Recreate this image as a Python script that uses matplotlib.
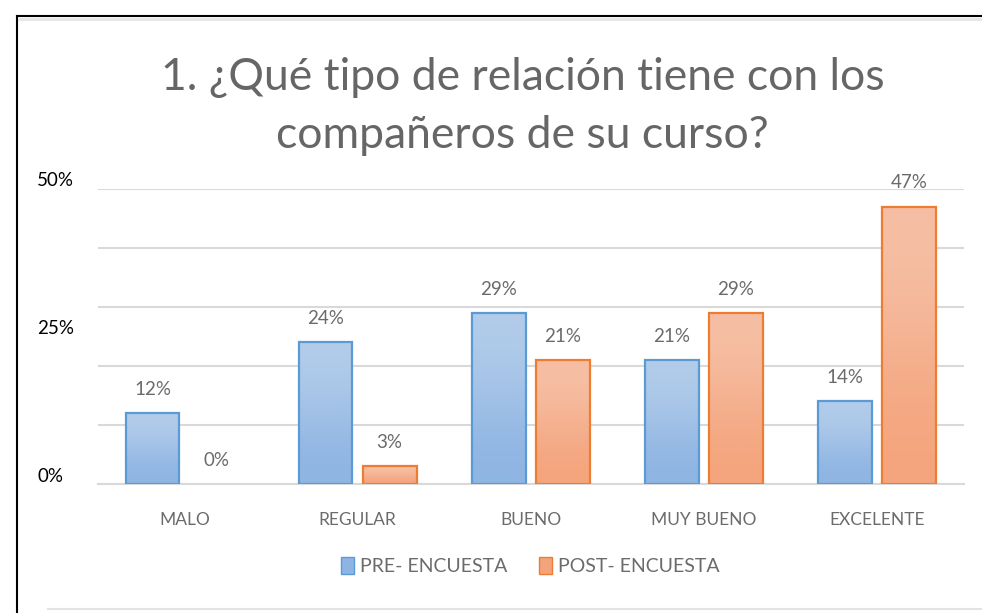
import matplotlib.pyplot as plt
import numpy as np
from matplotlib.colors import to_rgb
from matplotlib.lines import Line2D
from matplotlib.patches import Patch

categories = ["MALO", "REGULAR", "BUENO", "MUY BUENO", "EXCELENTE"]
pre = [12, 24, 29, 21, 14]
post = [0, 3, 21, 29, 47]
series_names = ["PRE- ENCUESTA", "POST- ENCUESTA"]
ytick_labels = ["0%", "25%", "50%"]

FONT = ["Lato", "DejaVu Sans"]
plt.rcParams["font.family"] = FONT

# (top colour, bottom colour, edge colour)
BLUE = ("#b3cdea", "#8eb4e3", "#5b9bd5")
ORANGE = ("#f6c0a6", "#f4a47c", "#ed7d31")
TEXT = "#6b6b6b"


def gradient_bars(ax, xs, heights, width, colors):
    top, bottom, edge = colors
    grad = np.array([to_rgb(bottom), to_rgb(top)]).reshape(2, 1, 3)
    for x, h in zip(xs, heights):
        if h <= 0:
            continue
        bar = ax.bar(x, h, width, facecolor="none", edgecolor=edge,
                     linewidth=1.6, zorder=3)[0]
        im = ax.imshow(grad, extent=(x - width / 2, x + width / 2, 0, h),
                       origin="lower", aspect="auto", interpolation="bicubic",
                       zorder=2)
        im.set_clip_path(bar)


fig = plt.figure(figsize=(9.82, 6.13), dpi=100)
ax = fig.add_axes([98 / 982, 1 - 484 / 613, (963.5 - 98) / 982, (484 - 189) / 613])

x = np.arange(len(categories))
w = 0.31
off = 0.185
gradient_bars(ax, x - off, pre, w, BLUE)
gradient_bars(ax, x + off, post, w, ORANGE)

for xs, vals in ((x - off, pre), (x + off, post)):
    for xi, v in zip(xs, vals):
        ax.annotate(f"{v}%", (xi, v), xytext=(0, 11), textcoords="offset points",
                    ha="center", va="bottom", fontsize=13.5, color=TEXT,
                    clip_on=False, annotation_clip=False)

ax.set_xlim(-0.5, 4.5)
ax.set_ylim(0, 50)
ax.set_yticks(range(0, 51, 10))
ax.yaxis.grid(True, color="#d9d9d9", linewidth=1.5, zorder=0)
ax.set_axisbelow(True)
ax.tick_params(axis="y", left=False, labelleft=False)
ax.tick_params(axis="x", bottom=False, pad=17)
ax.set_xticks(x)
ax.set_xticklabels(categories, fontsize=12.5, color=TEXT)
for s in ["top", "right", "left"]:
    ax.spines[s].set_visible(False)
ax.spines["bottom"].set_color("#d9d9d9")
ax.spines["bottom"].set_linewidth(1.5)

# y labels sit off the gridlines, as in the source
for lab, ypx in zip(ytick_labels, [477, 328, 181]):
    fig.text(37 / 982, 1 - ypx / 613, lab, fontsize=13.5, color="black",
             ha="left", va="center")

fig.text(0.532, 1 - 77 / 613, "1. ¿Qué tipo de relación tiene con los",
         ha="center", va="center", fontsize=32, color="#666666")
fig.text(0.532, 1 - 135 / 613, "compañeros de su curso?",
         ha="center", va="center", fontsize=32, color="#666666")

handles = [Patch(facecolor=BLUE[1], edgecolor=BLUE[2]),
           Patch(facecolor=ORANGE[1], edgecolor=ORANGE[2])]
fig.legend(handles, series_names, loc="center", bbox_to_anchor=(0.54, 1 - 566 / 613),
           ncol=2, frameon=False, fontsize=14, labelcolor=TEXT,
           handlelength=0.7, handleheight=1.0, handletextpad=0.3, columnspacing=1.6)

# frame of the pasted chart
fig.add_artist(Line2D([17 / 982, 17 / 982], [0, 1 - 16 / 613], color="black", lw=1.5))
fig.add_artist(Line2D([17 / 982, 1], [1 - 16 / 613, 1 - 16 / 613], color="black", lw=1.5))
fig.add_artist(Line2D([19 / 982, 1], [1 - 19 / 613, 1 - 19 / 613], color="#e6e6e6", lw=2))
fig.add_artist(Line2D([48 / 982, 1], [1 - 609 / 613, 1 - 609 / 613], color="#e3e3e3", lw=1.5))

fig.savefig("out.png", dpi=100)
